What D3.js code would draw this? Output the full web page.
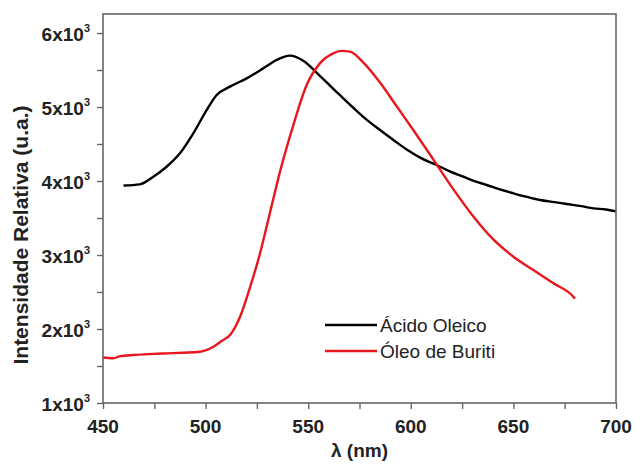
<!DOCTYPE html>
<html>
<head>
<meta charset="utf-8">
<script src="https://cdn.jsdelivr.net/npm/d3@7"></script>
<style>
  body { margin: 0; background: #fff; }
  text { font-family: Arial, "Liberation Sans", sans-serif; }
</style>
</head>
<body>
<div id="chart"></div>
<script>
// Ácido Oleico (black)
const oleicoLambda = [460, 468, 474.5, 481, 487.5, 494, 500.5, 505.4, 511.9, 520, 528.1, 534.6, 541.1, 547.6, 555.7, 560.6, 565.5, 572, 578, 585, 592, 598, 605, 612.6, 619, 625.6, 631, 637, 643, 650, 656, 663, 670, 676, 683, 689, 695, 700];
const oleicoValue  = [3940, 3955, 4058, 4193, 4374, 4644, 4959, 5162, 5275, 5387, 5522, 5635, 5694, 5626, 5420, 5290, 5160, 4990, 4840, 4689, 4545, 4425, 4310, 4216, 4130, 4058, 4000, 3946, 3890, 3834, 3790, 3743, 3715, 3689, 3660, 3631, 3615, 3590];

// Óleo de Buriti (red)
const buritiLambda = [450, 455, 458, 464.8, 472, 481, 489, 497.3, 503.8, 508, 511.9, 516.8, 521.6, 526.5, 529.8, 533, 536.3, 542.8, 549.3, 555.7, 562.2, 566, 570.4, 576.9, 585, 593.1, 601.2, 611, 620.7, 630.5, 640.2, 650, 659.7, 669.5, 679.2, 680];
const buritiValue  = [1615, 1605, 1630, 1649, 1660, 1671, 1680, 1693, 1761, 1840, 1919, 2166, 2560, 3020, 3390, 3760, 4130, 4760, 5300, 5590, 5725, 5758, 5748, 5600, 5330, 5010, 4690, 4290, 3890, 3520, 3210, 2977, 2797, 2617, 2437, 2410];

const xTicks = [450, 500, 550, 600, 650, 700];
const yTicks = [1000, 2000, 3000, 4000, 5000, 6000];
const legendLabels = ["Ácido Oleico", "Óleo de Buriti"];
const colors = ["#000000", "#e8161d"];

const width = 635, height = 465;
const margin = { left: 103, right: 19, top: 14, bottom: 62 };

const svg = d3.select("#chart").append("svg")
  .attr("width", width)
  .attr("height", height);

const x = d3.scaleLinear().domain([450, 700]).range([margin.left, width - margin.right]);
const y = d3.scaleLinear().domain([1000, 6257]).range([height - margin.bottom, margin.top]);

// curves
const line = d3.line().x(d => x(d[0])).y(d => y(d[1])).curve(d3.curveMonotoneX);
const series = [
  d3.zip(oleicoLambda, oleicoValue),
  d3.zip(buritiLambda, buritiValue)
];
svg.append("g")
  .selectAll("path")
  .data(series)
  .join("path")
  .attr("d", line)
  .attr("fill", "none")
  .attr("stroke", (d, i) => colors[i])
  .attr("stroke-width", 2.4)
  .attr("stroke-linejoin", "round");

// frame
svg.append("rect")
  .attr("x", x(450))
  .attr("y", margin.top)
  .attr("width", x(700) - x(450))
  .attr("height", y(1000) - margin.top)
  .attr("fill", "none")
  .attr("stroke", "#666")
  .attr("stroke-width", 1.6);

// x axis
const xAxis = svg.append("g").attr("transform", `translate(0,${y(1000)})`);
xAxis.call(d3.axisBottom(x).tickValues(d3.range(450, 701, 25)).tickSize(6).tickFormat(""))
  .call(g => g.select(".domain").remove())
  .call(g => g.selectAll("line").attr("stroke", "#666").attr("stroke-width", 1.4));
xAxis.selectAll(".lbl")
  .data(xTicks)
  .join("text")
  .attr("x", d => x(d))
  .attr("y", 30)
  .attr("text-anchor", "middle")
  .attr("font-size", 19)
  .attr("font-weight", "bold")
  .attr("fill", "#222")
  .text(d => d);

// y axis
const yAxis = svg.append("g").attr("transform", `translate(${x(450)},0)`);
yAxis.call(d3.axisLeft(y).tickValues(d3.range(1000, 6001, 500)).tickSize(6).tickFormat(""))
  .call(g => g.select(".domain").remove())
  .call(g => g.selectAll("line").attr("stroke", "#666").attr("stroke-width", 1.4));
const yl = yAxis.selectAll(".lbl")
  .data(yTicks)
  .join("text")
  .attr("x", -13)
  .attr("y", d => y(d) + 8)
  .attr("text-anchor", "end")
  .attr("font-size", 19)
  .attr("font-weight", "bold")
  .attr("fill", "#222");
yl.append("tspan").text(d => (d / 1000) + "x10");
yl.append("tspan")
  .attr("font-size", 11)
  .attr("dy", -9)
  .text("3");

// axis titles
svg.append("text")
  .attr("x", x(575))
  .attr("y", 457)
  .attr("text-anchor", "middle")
  .attr("font-size", 19)
  .attr("font-weight", "bold")
  .attr("fill", "#222")
  .text("λ (nm)");

svg.append("text")
  .attr("transform", "translate(28,235) rotate(-90)")
  .attr("text-anchor", "middle")
  .attr("font-size", 21)
  .attr("font-weight", "bold")
  .attr("fill", "#222")
  .text("Intensidade Relativa (u.a.)");

// legend
const legend = svg.append("g").attr("transform", "translate(325,325)");
legendLabels.forEach((label, i) => {
  legend.append("line")
    .attr("x1", 0).attr("x2", 52)
    .attr("y1", i * 26).attr("y2", i * 26)
    .attr("stroke", colors[i])
    .attr("stroke-width", 2.4);
  legend.append("text")
    .attr("x", 55)
    .attr("y", i * 26 + 7)
    .attr("font-size", 19)
    .attr("fill", "#222")
    .text(label);
});
</script>
</body>
</html>
